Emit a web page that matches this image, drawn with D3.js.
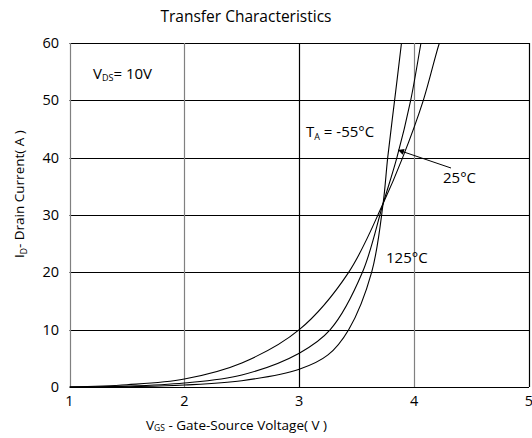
<!DOCTYPE html>
<html><head><meta charset="utf-8">
<script src="https://cdn.jsdelivr.net/npm/d3@7"></script>
<style>body{margin:0;background:#fff}svg{display:block}text{font-family:"Open Sans",sans-serif;fill:#000}</style>
</head><body><svg id="c" width="532" height="438"></svg>
<script>
const xTicks = [1, 2, 3, 4, 5];
const yTicks = [0, 10, 20, 30, 40, 50, 60];
const seriesNames = ["125°C", "25°C", "-55°C"];
const vgs125 = [1.0, 1.5, 2.0, 2.5, 3.0, 3.43, 3.73, 3.90, 4.08, 4.22, 4.26];
const id125  = [0, 0.4, 1.4, 4.2, 10.0, 20, 32, 40, 50, 60, 62];
const vgs25  = [1.0, 1.5, 2.0, 2.5, 3.0, 3.27, 3.55, 3.73, 3.85, 3.97, 4.06, 4.08];
const id25   = [0, 0.15, 0.7, 2.1, 5.9, 10, 20, 32, 40, 50, 60, 62];
const vgsM55 = [1.0, 1.5, 2.0, 2.5, 3.0, 3.25, 3.43, 3.63, 3.73, 3.77, 3.83, 3.89, 3.90];
const idM55  = [0, 0.05, 0.35, 1.1, 3.1, 5.6, 10, 20, 32, 40, 50, 60, 62];

const svg = d3.select("#c");
const L = 69.5, R = 529, T = 43, B = 387;
const x = d3.scaleLinear().domain([1, 5]).range([L, R]);
const y = d3.scaleLinear().domain([0, 60]).range([B, T]);

// grid
const gcol = v => (v === 2 || v === 4 || v === 1) ? "#808080" : "#000";
svg.append("g").selectAll("line").data(yTicks).join("line")
  .attr("x1", L).attr("x2", R).attr("y1", d => Math.round(y(d)) + 0.5).attr("y2", d => Math.round(y(d)) + 0.5)
  .attr("stroke", "#000").attr("stroke-width", 1);
svg.append("g").selectAll("line").data(xTicks).join("line")
  .attr("x1", d => Math.round(x(d)) + 0.5).attr("x2", d => Math.round(x(d)) + 0.5)
  .attr("y1", T).attr("y2", B).attr("stroke", d => gcol(d)).attr("stroke-width", 1.2);

// axes labels
svg.append("g").selectAll("text").data(yTicks).join("text")
  .attr("x", 59).attr("y", d => y(d) + 5).attr("text-anchor", "end").attr("font-size", 14.5).text(d => d);
svg.append("g").selectAll("text").data(xTicks).join("text")
  .attr("x", d => x(d)).attr("y", 406).attr("text-anchor", "middle").attr("font-size", 14.5).text(d => d);

// clip
svg.append("clipPath").attr("id", "clip").append("rect").attr("x", L).attr("y", T).attr("width", R - L).attr("height", B - T);

const series = [
  {name: seriesNames[0], v: vgs125, i: id125},
  {name: seriesNames[1], v: vgs25, i: id25},
  {name: seriesNames[2], v: vgsM55, i: idM55}
];
const line = d3.line().x(d => x(d[0])).y(d => y(d[1])).curve(d3.curveCatmullRom.alpha(0.5));
svg.append("g").attr("clip-path", "url(#clip)").selectAll("path").data(series).join("path")
  .attr("d", s => line(s.v.map((v, k) => [v, s.i[k]])))
  .attr("fill", "none").attr("stroke", "#000").attr("stroke-width", 1.1);

// title
svg.append("text").attr("x", 246).attr("y", 22).attr("text-anchor", "middle").attr("font-size", 15.5).text("Transfer Characteristics");

// VDS label
const vds = svg.append("text").attr("x", 93).attr("y", 79).attr("font-size", 15);
vds.append("tspan").text("V");
vds.append("tspan").attr("font-size", 9).attr("dy", 2).text("DS");
vds.append("tspan").attr("dy", -2).text("= 10V");

// TA label
const ta = svg.append("text").attr("x", 306).attr("y", 137).attr("font-size", 15);
ta.append("tspan").text("T");
ta.append("tspan").attr("font-size", 9).attr("dy", 3).text("A");
ta.append("tspan").attr("dy", -3).text(" = -55°C");

svg.append("text").attr("x", 443).attr("y", 183).attr("font-size", 15).text("25°C");
svg.append("text").attr("x", 386).attr("y", 263).attr("font-size", 15).text("125°C");

// arrow
svg.append("defs").append("marker").attr("id", "ah").attr("viewBox", "0 0 10 10").attr("refX", 10).attr("refY", 5)
  .attr("markerWidth", 9).attr("markerHeight", 6).attr("orient", "auto").attr("markerUnits", "userSpaceOnUse")
  .append("path").attr("d", "M0,0L10,5L0,10z").attr("fill", "#000");
svg.append("line").attr("x1", 451).attr("y1", 168).attr("x2", 398).attr("y2", 150)
  .attr("stroke", "#000").attr("stroke-width", 1).attr("marker-end", "url(#ah)");

// axis titles
const xt = svg.append("text").attr("x", 146).attr("y", 430).attr("font-size", 13.5);
xt.append("tspan").text("V");
xt.append("tspan").attr("font-size", 8.5).attr("dy", 1).text("GS");
xt.append("tspan").attr("dy", -1).text(" - Gate-Source Voltage( V )");

const yt = svg.append("text").attr("transform", "translate(24,258) rotate(-90)").attr("font-size", 13.5);
yt.append("tspan").text("I");
yt.append("tspan").attr("font-size", 8.5).attr("dy", 3).text("D");
yt.append("tspan").attr("dy", -3).text("- Drain Current( A )");
</script></body></html>
